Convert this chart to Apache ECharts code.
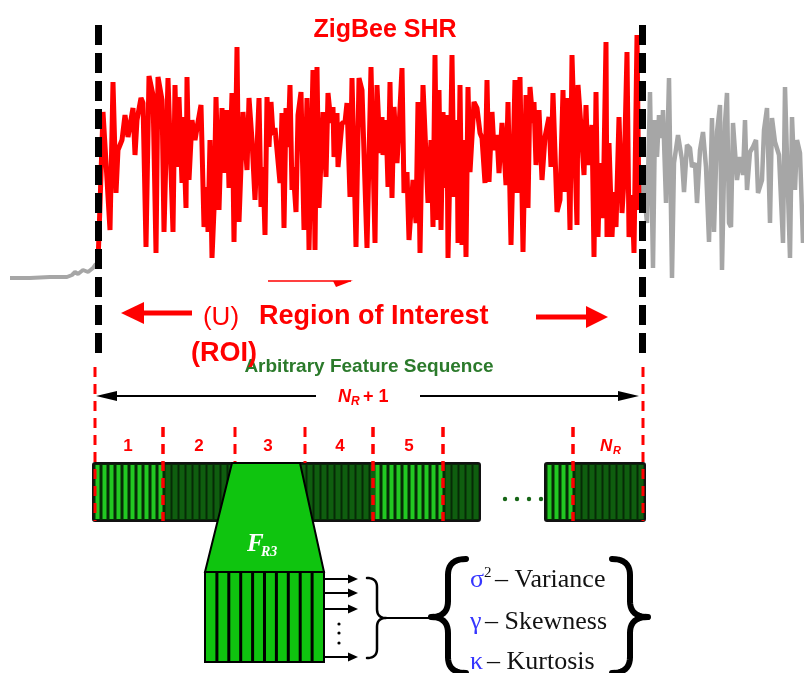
<!DOCTYPE html>
<html><head><meta charset="utf-8">
<script src="https://cdn.jsdelivr.net/npm/echarts@6/dist/echarts.min.js"></script>
<style>html,body{margin:0;padding:0;background:#fff}#c{width:804px;height:673px}</style>
</head><body><div id="c"></div>
<script>
// ---------- signal data (time index, amplitude) ----------
const greyLeftT = [10,30,50,67,72,75,78,80,83,85,88,90,93,95,98];
const greyLeftA = [-113,-113,-112,-112,-110,-107,-109,-108,-105,-103,-107,-106,-103,-100,-98];

const redT = [
 98,100,103,110,113,115,116,118,122,125,
 128,133,135,137,141,143,146,149,153,156,
 158,162,164,168,173,175,177,179,182,183,
 186,187,189,192,195,198,201,204,207,208,
 210,212,214,216,219,222,224,227,229,232,
 234,237,239,243,247,249,252,255,259,261,
 263,265,267,269,271,273,275,280,282,284,
 286,288,290,292,293,296,298,301,304,307,
 309,313,315,317,319,323,326,328,331,333,
 334,337,338,342,345,347,350,352,356,359,
 362,364,367,371,375,377,380,382,383,386,
 388,390,392,394,397,399,402,404,407,409,
 413,416,418,420,423,428,431,433,435,437,
 439,441,443,446,447,448,451,452,454,457,
 458,460,462,464,466,468,470,474,477,480,
 482,485,487,489,492,494,497,499,502,504,
 506,508,511,515,517,520,523,526,528,530,
 533,534,536,539,542,545,549,551,553,557,
 560,563,565,567,570,572,577,578,581,584,
 586,588,592,594,596,598,600,603,606,607,
 609,612,614,616,619,622,624,627,629,632,
 634,637,639];
const redA = [
 -98,-40,53,-65,83,83,-28,15,25,50,
 28,57,10,45,67,62,-82,89,70,-88,
 88,65,-67,87,-67,80,-2,68,-18,48,
 -43,88,-15,45,25,43,60,-62,-22,-67,
 25,-93,-45,68,-45,57,-8,55,-23,72,
 -77,118,-57,53,-5,67,25,-35,67,-42,
 -2,-70,68,18,63,30,37,-18,52,-63,
 57,18,80,-25,-2,-47,50,73,-65,67,
 -85,95,-85,98,-43,53,-12,72,42,58,
 8,52,-2,42,43,62,-32,87,-82,87,
 75,75,-83,98,-78,80,12,48,10,45,
 -22,83,-33,58,2,37,97,-28,-7,-75,
 -15,-58,63,-88,80,-38,25,-62,110,-55,
 75,-65,53,-23,50,-93,47,110,-32,45,
 -78,80,-80,25,-92,78,-7,63,57,32,
 27,-18,85,-17,53,15,30,-8,42,15,
 -20,63,-80,85,-28,88,-87,70,-43,78,
 42,63,0,55,-15,28,48,-2,72,-47,
 -35,75,-27,67,-65,110,-60,80,38,-10,
 60,0,40,-92,73,-72,2,-53,123,-72,
 22,-72,-27,-62,48,-48,-15,113,-72,-30,
 -88,130,-45];

const greyRightT = [
 640,643,647,650,653,655,657,659,662,663,
 666,669,672,674,678,682,684,687,690,692,
 695,697,700,703,706,709,712,714,717,720,
 722,725,727,729,731,733,737,740,743,745,
 747,750,753,756,758,762,764,767,770,772,
 775,779,783,785,788,790,792,795,797,800,
 803];
const greyRightA = [
 -40,-15,-58,73,-103,45,8,50,27,55,
 -38,87,-113,2,30,5,-27,20,17,-2,
 2,-38,15,33,-2,-77,47,-67,33,60,
 -105,42,72,-58,-62,42,-15,8,-10,45,
 -25,13,18,25,-28,-15,35,57,-58,47,
 23,10,-78,78,-28,-93,48,-25,25,12,
 -78];

// ROI boundaries (time index)
const roiBounds = [98.5, 642.5];

// ---------- diagram labels ----------
const titleText = 'ZigBee SHR';
const segmentLabels = ['1','2','3','4','5'];
const lastSegment = ['N','R'];
const featureSymbols = ['σ','γ','κ'];
const featureNames = ['Variance','Skewness','Kurtosis'];

// ---------- build ----------
const pairs = (t, a) => t.map((v, i) => [v, a[i]]);
const RED = '#ff0000', GREY = '#a6a6a6', SANS = '"Liberation Sans", Arial, sans-serif', SERIF = '"Liberation Serif", "Times New Roman", serif';
const els = [];
function T(text, x, y, font, fill, align, z) {
  align = align || 'center';
  els.push({type:'text', z: z || 20, silent:true, style:{text, x, y, font, fill, align, textAlign:align, verticalAlign:'middle', textVerticalAlign:'middle'}});
}
function L(x1, y1, x2, y2, stroke, lw, dash, z) {
  els.push({type:'line', z: z || 10, silent:true, shape:{x1,y1,x2,y2}, style:{stroke, lineWidth:lw, lineDash: dash || null}});
}
function P(points, fill, stroke, lw, z) {
  els.push({type:'polygon', z: z || 10, silent:true, shape:{points}, style:{fill, stroke: stroke || null, lineWidth: lw || 0}});
}
function R(x, y, w, h, fill, stroke, lw, z, r) {
  els.push({type:'rect', z: z || 5, silent:true, shape:{x, y, width:w, height:h, r: r || 0}, style:{fill, stroke: stroke || null, lineWidth: lw || 0}});
}
function quad(p0, c, p1, n, out) {
  for (let i = 0; i <= n; i++) {
    const t = i / n, u = 1 - t;
    out.push([u*u*p0[0] + 2*u*t*c[0] + t*t*p1[0], u*u*p0[1] + 2*u*t*c[1] + t*t*p1[1]]);
  }
}
function brace(xe, xs, xt, yt, ym, yb, r, lw) {
  const pts = [];
  quad([xe,yt],[xs,yt],[xs,yt+r],10,pts);
  quad([xs,ym-r],[xs,ym],[xt,ym],10,pts);
  quad([xt,ym],[xs,ym],[xs,ym+r],10,pts);
  quad([xs,yb-r],[xs,yb],[xe,yb],10,pts);
  els.push({type:'polyline', z:15, silent:true, shape:{points:pts}, style:{stroke:'#000', lineWidth:lw, fill:null, lineJoin:'round', lineCap:'round'}});
}

// title
T(titleText, 385, 30, 'bold 25px ' + SANS, RED);
// small arrow
L(268, 281, 351, 281, RED, 1.5);
P([[333,281],[353,280.5],[336,287]], RED);
// ROI arrows
L(139, 313, 192, 313, RED, 5);
P([[121,313],[144,302],[144,324]], RED);
L(536, 317, 590, 317, RED, 5);
P([[608,317],[586,306],[586,328]], RED);
// ROI texts
T('(U)', 221, 318, '26px ' + SANS, RED);
T('Region of Interest', 259, 317, 'bold 27px ' + SANS, RED, 'left');
T('Arbitrary Feature Sequence', 369, 367, 'bold 19px ' + SANS, '#2b7a2b');
T('(ROI)', 224, 354, 'bold 27px ' + SANS, RED, 'center', 22);
// black double arrow
L(112, 396, 316, 396, '#000', 2);
P([[96,396],[117,391],[117,401]], '#000');
L(420, 396, 624, 396, '#000', 2);
P([[639,396],[618,391],[618,401]], '#000');
T('N', 338, 397, 'italic bold 18px ' + SANS, RED, 'left');
T('R', 351, 402, 'italic bold 12px ' + SANS, RED, 'left');
T('+ 1', 363, 397, 'bold 18px ' + SANS, RED, 'left');

// feature bars
const barY = 463, barH = 58;
R(93, barY, 387, barH, '#062a06', '#111', 2, 5, 2);
R(545, barY, 100, barH, '#062a06', '#111', 2, 5, 2);
const segs = [[93,163,1],[163,235,0],[235,305,0],[305,373,0],[373,443,1],[443,480,0],[545,573,1],[573,645,0]];
segs.forEach(s => {
  for (let x = s[0] + 2.5; x < s[1] - 2; x += 7) {
    R(x, barY + 2, s[2] ? 4 : 5, barH - 4, s[2] ? '#22c922' : '#0f5e0f', null, 0, 6);
  }
});
// dots between blocks
[507, 519, 531, 543].forEach(x => els.push({type:'circle', z:6, silent:true, shape:{cx:x - 2, cy:499, r:2.2}, style:{fill:'#166616'}}));

// red dashed dividers
const dash = [10, 7];
[95, 643].forEach(x => L(x, 367, x, 521, RED, 3, dash, 12));
[163, 373, 443, 573].forEach(x => L(x, 427, x, 521, RED, 3.5, dash, 12));
[235, 305].forEach(x => L(x, 427, x, 463, RED, 3, dash, 12));
// segment labels
const segX = [128, 199, 268, 340, 409];
segmentLabels.forEach((s, i) => T(s, segX[i], 446, 'bold 17px ' + SANS, RED));
T(lastSegment[0], 600, 446, 'italic bold 17px ' + SANS, RED, 'left');
T(lastSegment[1], 613, 451, 'italic bold 11px ' + SANS, RED, 'left');

// trapezoid zoom
P([[232,463],[300,463],[324,572],[205,572]], '#0fc40f', '#000', 2, 14);
T('F', 247, 545, 'italic bold 25px ' + SERIF, '#ffffff', 'left');
T('R3', 261, 552, 'italic bold 14px ' + SERIF, '#ffffff', 'left');
// lower box
R(205, 572, 119, 90, '#0fc40f', '#000', 2, 14);
for (let k = 1; k < 10; k++) L(205 + k * 11.9, 572, 205 + k * 11.9, 662, '#000', 3, null, 15);
// outputs
[579, 593, 609, 657].forEach(y => { L(325, y, 350, y, '#000', 2); P([[358,y],[348,y-4.5],[348,y+4.5]], '#000'); });
[624, 633, 643].forEach(y => els.push({type:'circle', z:10, silent:true, shape:{cx:339, cy:y, r:1.6}, style:{fill:'#000'}}));
// braces
brace(367, 377, 386, 578, 618, 658, 9, 2.5);
L(386, 618, 432, 618, '#000', 2);
brace(466, 448, 431, 559, 617, 673, 16, 6);
brace(612, 630, 648, 559, 617, 673, 16, 6);
// statistics
const featY = [580, 622, 662];
const nameX = [495, 485, 487];
featureSymbols.forEach((s, i) => {
  T(s, 470, featY[i], '26px ' + SERIF, '#3636ff', 'left');
  T('– ' + featureNames[i], nameX[i], featY[i], '26px ' + SERIF, '#111', 'left');
});
T('2', 484, featY[0] - 7, '15px ' + SERIF, '#111', 'left');

const chart = echarts.init(document.getElementById('c'), null, {renderer:'canvas'});
chart.setOption({
  animation: false,
  backgroundColor: '#ffffff',
  grid: {left: 0, right: 0, top: 22, bottom: 320},
  xAxis: {type:'value', min:0, max:804, show:false},
  yAxis: {type:'value', min:-188, max:143, show:false},
  series: [
    {type:'line', data: pairs(greyLeftT, greyLeftA), showSymbol:false, symbol:'none', lineStyle:{color:GREY, width:4}, z:2},
    {type:'line', data: pairs(greyRightT, greyRightA), showSymbol:false, symbol:'none', lineStyle:{color:GREY, width:4.5}, z:2},
    {type:'line', data: pairs(redT, redA), showSymbol:false, symbol:'none', lineStyle:{color:RED, width:5}, z:3},
    {type:'line', data: [], z:5, markLine:{silent:true, symbol:['none','none'], label:{show:false}, animation:false,
      lineStyle:{color:'#000', width:7, type:[20,8]}, data: roiBounds.map(v => ({xAxis:v}))}}
  ],
  graphic: {elements: els}
});
</script></body></html>
